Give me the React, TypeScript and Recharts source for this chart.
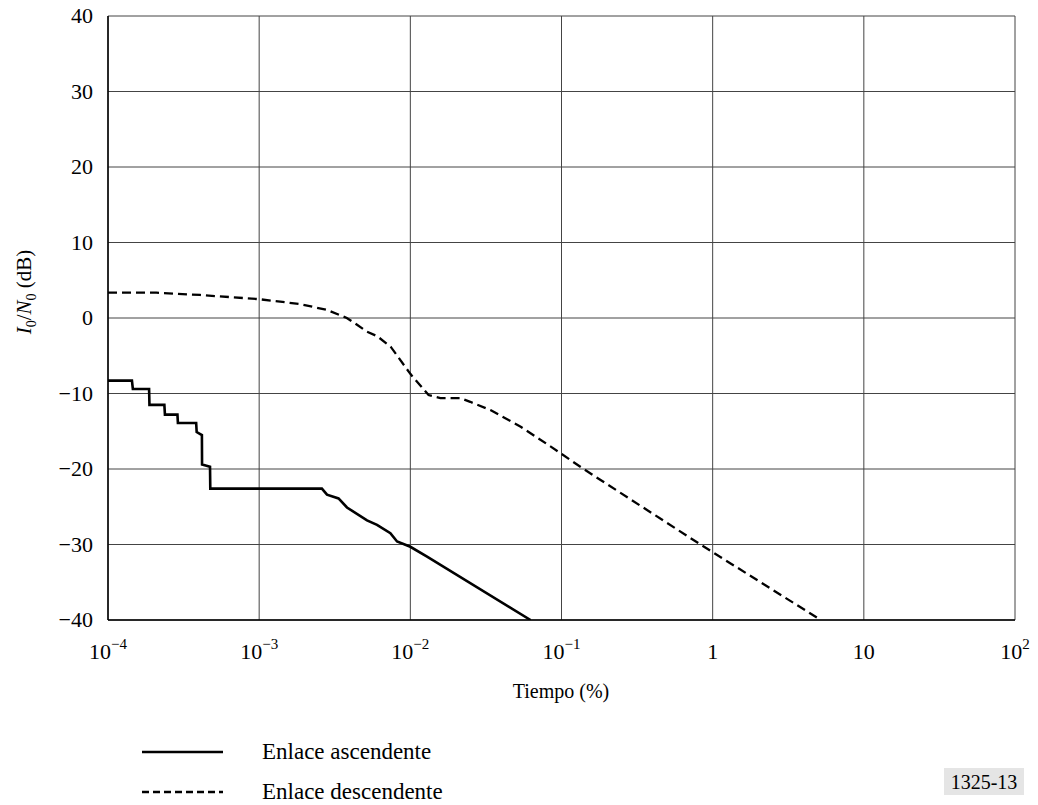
import React from "react";
import { LineChart, Line, XAxis, YAxis, CartesianGrid } from "recharts";

const xTicks = [1e-4, 1e-3, 1e-2, 1e-1, 1, 10, 100];
const xTickLabels: [string, string][] = [
  ["10", "−4"],
  ["10", "−3"],
  ["10", "−2"],
  ["10", "−1"],
  ["1", ""],
  ["10", ""],
  ["10", "2"],
];
const yTicks = [-40, -30, -20, -10, 0, 10, 20, 30, 40];

// Enlace ascendente (uplink) — solid
const uplinkX = [
  1e-4, 1.44e-4, 1.46e-4, 1.87e-4, 1.88e-4, 2.36e-4, 2.38e-4, 2.88e-4, 2.9e-4, 3.83e-4,
  3.86e-4, 4.18e-4, 4.19e-4, 4.73e-4, 4.75e-4, 2.6e-3, 2.81e-3, 3.35e-3, 3.81e-3, 5.17e-3,
  6.02e-3, 7.38e-3, 8.17e-3, 1e-2, 1.29e-2, 0.0624,
];
const uplinkY = [
  -8.3, -8.3, -9.4, -9.4, -11.5, -11.5, -12.8, -12.8, -13.9, -13.9,
  -15.1, -15.5, -19.4, -19.7, -22.6, -22.6, -23.4, -23.9, -25.1, -26.8,
  -27.4, -28.5, -29.6, -30.3, -31.6, -40,
];

// Enlace descendente (downlink) — dashed
const downlinkX = [
  1e-4, 2.09e-4, 4.07e-4, 9.9e-4, 1.86e-3, 2.82e-3, 3.8e-3, 4.44e-3, 5.16e-3, 6.03e-3,
  7.41e-3, 1e-2, 1.32e-2, 1.58e-2, 2.14e-2, 2.49e-2, 3.39e-2, 5.37e-2, 8.45e-2, 0.14,
  0.83, 5.19,
];
const downlinkY = [
  3.35, 3.35, 3.05, 2.5, 1.85, 1.06, 0, -0.9, -1.8, -2.4,
  -3.8, -7.4, -10.2, -10.6, -10.6, -11.1, -12.2, -14.4, -17.0, -20,
  -30, -40,
];

const uplink = uplinkX.map((x, i) => ({ x, y: uplinkY[i] }));
const downlink = downlinkX.map((x, i) => ({ x, y: downlinkY[i] }));

const FONT = "Liberation Serif, Times New Roman, serif";
const txt = { fontFamily: FONT };

const XTick = (props: any) => {
  const { x, y, payload, index } = props;
  const idx = xTicks.indexOf(payload.value);
  const lab = xTickLabels[idx >= 0 ? idx : index] || ["", ""];
  return (
    <text x={x} y={y + 31} textAnchor="middle" style={{ ...txt, fontSize: 22 }} fill="#000">
      <tspan>{lab[0]}</tspan>
      {lab[1] ? (
        <tspan dy={-10} style={{ fontSize: 15 }}>
          {lab[1]}
        </tspan>
      ) : null}
    </text>
  );
};

const YTick = (props: any) => {
  const { x, y, payload } = props;
  const v = payload.value as number;
  const s = v < 0 ? "−" + Math.abs(v) : String(v);
  return (
    <text x={x - 7} y={y + 7} textAnchor="end" style={{ ...txt, fontSize: 22 }} fill="#000">
      {s}
    </text>
  );
};

const LegendBlock = () => (
  <svg width={1038} height={80} style={{ position: "absolute", left: 0, top: 730 }}>
    <line x1={142} x2={223} y1={22} y2={22} stroke="#000" strokeWidth={2.5} />
    <line x1={142} x2={223} y1={62} y2={62} stroke="#000" strokeWidth={2.5} strokeDasharray="7 4" />
    <text x={262} y={29} style={{ ...txt, fontSize: 23 }} fill="#000">Enlace ascendente</text>
    <text x={262} y={69} style={{ ...txt, fontSize: 23 }} fill="#000">Enlace descendente</text>
    <rect x={944} y={38} width={80} height={27} fill="#e5e5e5" />
    <text x={984} y={59} textAnchor="middle" style={{ ...txt, fontSize: 20 }} fill="#000">1325-13</text>
  </svg>
);

export default function App() {
  return (
    <div style={{ position: "absolute", left: 0, top: 0, width: 1038, height: 805, background: "#fff" }}>
      <LineChart
        width={1038}
        height={805}
        margin={{ top: 16, right: 23, bottom: 145, left: 48 }}
        style={{ fontFamily: FONT }}
      >
        <CartesianGrid stroke="#444" strokeWidth={1} horizontalValues={yTicks} verticalValues={xTicks} />
        <XAxis
          type="number"
          dataKey="x"
          scale="log"
          domain={[1e-4, 100]}
          ticks={xTicks}
          allowDataOverflow
          height={40}
          tickLine={false}
          axisLine={{ stroke: "#000", strokeWidth: 1.5 }}
          tick={<XTick />}
          interval={0}
          label={{
            content: () => (
              <text x={561} y={698} textAnchor="middle" style={{ ...txt, fontSize: 20 }} fill="#000">
                Tiempo (%)
              </text>
            ),
          }}
        />
        <YAxis
          type="number"
          dataKey="y"
          domain={[-40, 40]}
          ticks={yTicks}
          allowDataOverflow
          width={60}
          tickLine={false}
          axisLine={{ stroke: "#000", strokeWidth: 1.5 }}
          tick={<YTick />}
          interval={0}
          label={{
            content: () => (
              <text
                x={0}
                y={0}
                transform="translate(31,292) rotate(-90)"
                textAnchor="middle"
                style={{ ...txt, fontSize: 21 }}
                fill="#000"
              >
                <tspan fontStyle="italic">I</tspan>
                <tspan style={{ fontSize: 14 }} dy={5}>0</tspan>
                <tspan dy={-5}>/</tspan>
                <tspan fontStyle="italic">N</tspan>
                <tspan style={{ fontSize: 14 }} dy={5}>0</tspan>
                <tspan dy={-5}> (dB)</tspan>
              </text>
            ),
          }}
        />
        <Line
          data={uplink}
          dataKey="y"
          type="linear"
          stroke="#000"
          strokeWidth={2.6}
          dot={false}
          isAnimationActive={false}
          name="Enlace ascendente"
        />
        <Line
          data={downlink}
          dataKey="y"
          type="linear"
          stroke="#000"
          strokeWidth={2.3}
          strokeDasharray="9 5"
          dot={false}
          isAnimationActive={false}
          name="Enlace descendente"
        />
      </LineChart>
      <LegendBlock />
    </div>
  );
}
